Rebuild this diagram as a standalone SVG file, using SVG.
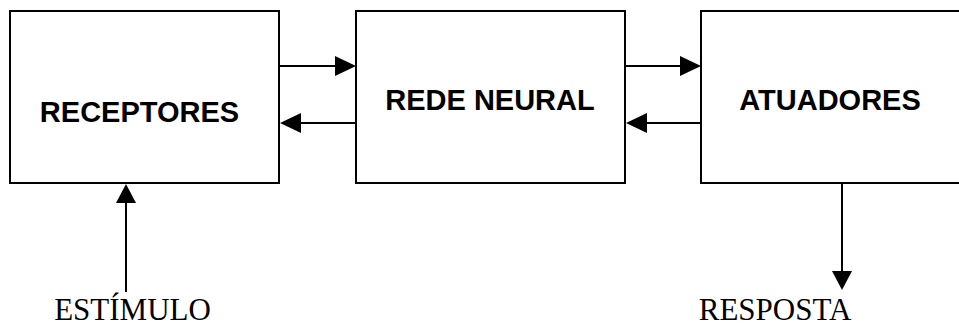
<svg xmlns="http://www.w3.org/2000/svg" width="959" height="327" viewBox="0 0 959 327">
<style>
.box{fill:#fff;stroke:#000;stroke-width:2}
.lbl{font-family:"Liberation Sans",Arial,sans-serif;font-weight:bold;font-size:29px;fill:#000;text-anchor:middle}
.io{font-family:"Liberation Serif","Times New Roman",serif;font-size:31px;fill:#000;text-anchor:middle}
.ln{stroke:#000;stroke-width:2;fill:none}
.hd{fill:#000}
</style>
<rect width="959" height="327" fill="#fff"/>
<g id="receptores"><rect class="box" x="10" y="11" width="269" height="172"/><text class="lbl" x="139.5" y="122">RECEPTORES</text></g>
<g id="rede-neural"><rect class="box" x="356" y="11" width="269" height="172"/><text class="lbl" x="490" y="110">REDE NEURAL</text></g>
<g id="atuadores"><rect class="box" x="701" y="11" width="270" height="172"/><text class="lbl" x="830" y="110">ATUADORES</text></g>
<g id="estimulo"><text class="io" x="132.5" y="320">ESTÍMULO</text></g>
<g id="resposta"><text class="io" x="775" y="320">RESPOSTA</text></g>
<g id="connectors">
<line class="ln" x1="279" y1="66" x2="336" y2="66"/><polygon class="hd" points="356,66 335,56 335,76"/>
<line class="ln" x1="356" y1="123" x2="299" y2="123"/><polygon class="hd" points="280,123 301,113 301,133"/>
<line class="ln" x1="625" y1="66" x2="681" y2="66"/><polygon class="hd" points="701,66 680,56 680,76"/>
<line class="ln" x1="701" y1="123" x2="645" y2="123"/><polygon class="hd" points="626,123 647,113 647,133"/>
<line class="ln" x1="126" y1="292" x2="126" y2="202"/><polygon class="hd" points="126,184 116,203 136,203"/>
<line class="ln" x1="842" y1="183" x2="842" y2="272"/><polygon class="hd" points="842,290 832,271 852,271"/>
</g>
</svg>
